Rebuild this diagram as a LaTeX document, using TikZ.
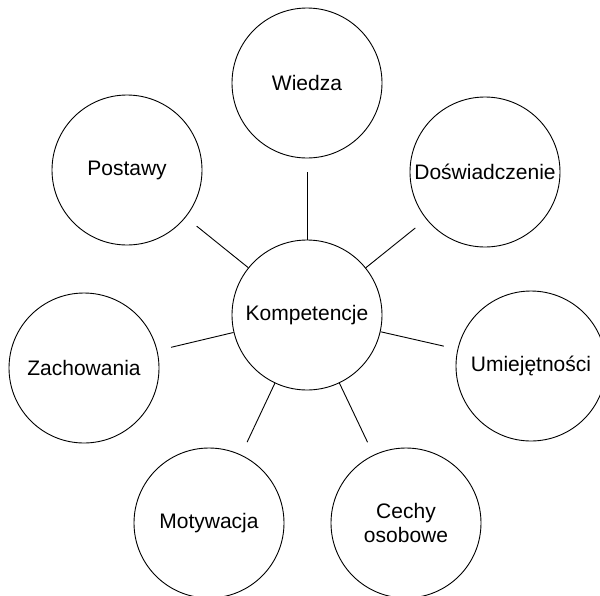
\documentclass[tikz,border=0pt]{standalone}
\usepackage{fontspec}
\setmainfont{Liberation Sans}
\begin{document}
\begin{tikzpicture}[x=1pt,y=-1pt,
  bubble/.style={circle,draw=black,line width=0.9pt,minimum size=150pt,
    inner sep=0pt,align=center,font=\fontsize{21}{24}\selectfont},
  link/.style={draw=black,line width=0.9pt,shorten >=14pt}]
\useasboundingbox (0,0) rectangle (600,595);
% central concept
\node[bubble] (K) at (307,315) {Kompetencje};
% surrounding components
\node[bubble] (W) at (307,83)  {Wiedza};
\node[bubble] (D) at (485,172) {Doświadczenie};
\node[bubble] (U) at (531,366) {Umiejętności};
\node[bubble] (C) at (406,523) {Cechy\\osobowe};
\node[bubble] (M) at (209,523) {Motywacja};
\node[bubble] (Z) at (84,368)  {Zachowania};
\node[bubble] (P) at (127,170) {Postawy};
% spokes from the centre, stopping short of each outer circle
\foreach \t in {W,D,U,C,M,Z,P}
  \draw[link] (K) -- (\t);
\end{tikzpicture}
\end{document}
